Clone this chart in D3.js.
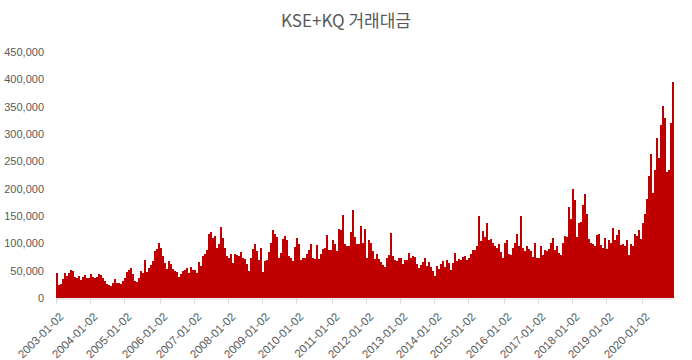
<!DOCTYPE html>
<html>
<head>
<meta charset="utf-8">
<script src="https://cdn.jsdelivr.net/npm/d3@7"></script>
<style>
  body { margin: 0; background: #fff; }
  .axis text { font-family: "Liberation Sans", Arial, sans-serif; font-size: 11px; fill: #595959; }
  .xlab text { font-size: 11.5px; }
  .title { font-family: "Noto Sans CJK KR", sans-serif; font-size: 17px; fill: #595959; }
</style>
</head>
<body>
<div id="chart"></div>
<script>
// KSE+KQ trading value (억원), roughly two weeks per bar
var yearLabels = ["2003-01-02", "2004-01-02", "2005-01-02", "2006-01-02", "2007-01-02",
  "2008-01-02", "2009-01-02", "2010-01-02", "2011-01-02", "2012-01-02", "2013-01-02",
  "2014-01-02", "2015-01-02", "2016-01-02", "2017-01-02", "2018-01-02", "2019-01-02", "2020-01-02"];

// values in thousands
var v2003 = [45, 24, 26, 35, 45, 40, 46, 51, 49, 39, 37, 40, 33, 38, 42, 37, 37];
var v2004 = [44, 38, 37, 38, 44, 42, 37, 31, 26, 24, 22, 27, 34, 28, 28, 25, 31];
var v2005 = [37, 48, 52, 55, 44, 32, 30, 37, 50, 46, 69, 48, 55, 61, 68, 86, 90, 100];
var v2006 = [91, 77, 64, 53, 68, 62, 53, 49, 48, 38, 43, 49, 52, 55, 46, 57, 51];
var v2007 = [52, 46, 66, 59, 77, 80, 87, 117, 121, 110, 114, 92, 98, 130, 110, 92, 77];
var v2008 = [74, 80, 64, 80, 79, 77, 85, 73, 71, 62, 49, 73, 89, 98, 86, 69, 91];
var v2009 = [48, 67, 69, 85, 101, 124, 117, 112, 73, 82, 108, 114, 106, 77, 74, 68, 93];
var v2010 = [109, 98, 69, 73, 74, 81, 87, 98, 74, 71, 97, 71, 80, 89, 92, 115, 87, 87];
var v2011 = [106, 98, 86, 126, 124, 152, 98, 95, 95, 121, 161, 112, 98, 99, 132, 101, 126];
var v2012 = [74, 106, 101, 86, 71, 81, 71, 65, 61, 57, 74, 78, 118, 77, 69, 68, 73];
var v2013 = [73, 62, 69, 69, 83, 74, 77, 75, 63, 54, 60, 65, 73, 59, 65, 57, 49];
var v2014 = [41, 59, 53, 63, 67, 57, 70, 64, 51, 64, 82, 67, 71, 70, 75, 77, 69];
var v2015 = [73, 81, 87, 88, 95, 150, 104, 122, 112, 137, 107, 108, 100, 95, 92, 98, 84, 73];
var v2016 = [101, 107, 81, 79, 92, 101, 117, 95, 150, 92, 86, 96, 90, 86, 75, 101, 73];
var v2017 = [73, 95, 79, 87, 86, 90, 100, 110, 88, 95, 82, 79, 101, 113, 112, 166, 144];
var v2018 = [200, 180, 111, 137, 139, 170, 190, 154, 108, 100, 98, 95, 116, 117, 97, 91, 110];
var v2019 = [90, 106, 101, 128, 106, 116, 124, 97, 99, 96, 106, 79, 99, 95, 117, 113, 125, 108];
var v2020 = [137, 154, 181, 223, 264, 192, 234, 293, 256, 317, 351, 330, 230, 234, 320, 395];

var yearValues = [v2003, v2004, v2005, v2006, v2007, v2008, v2009, v2010, v2011,
  v2012, v2013, v2014, v2015, v2016, v2017, v2018, v2019, v2020];

var W = 692, H = 360;
var margin = {top: 52, right: 18, bottom: 62, left: 56},
    width = W - margin.left - margin.right,
    height = H - margin.top - margin.bottom;

// flatten into one series, remember where each year starts
var data = [], yearStart = [];
yearValues.forEach(function(arr) {
  yearStart.push(data.length);
  arr.forEach(function(v) { data.push({i: data.length, value: v * 1000}); });
});

var x = d3.scaleBand().domain(data.map(function(d) { return d.i; }))
  .range([0, width]).padding(0);
var y = d3.scaleLinear().domain([0, 450000]).range([height, 0]);

var svg = d3.select("#chart").append("svg")
  .attr("width", W).attr("height", H)
  .append("g")
    .attr("transform", "translate(" + margin.left + "," + margin.top + ")");

// title
d3.select("svg").append("text")
  .attr("class", "title")
  .attr("x", W / 2)
  .attr("y", 27)
  .attr("text-anchor", "middle")
  .text("KSE+KQ 거래대금");

// bars
svg.selectAll(".bar").data(data).enter().append("rect")
  .attr("class", "bar")
  .attr("x", function(d) { return x(d.i); })
  .attr("width", x.bandwidth() + 0.01)
  .attr("y", function(d) { return y(d.value); })
  .attr("height", function(d) { return height - y(d.value); })
  .attr("fill", "#C00000")
  .attr("shape-rendering", "crispEdges");

// y axis, labels only
var yAxis = d3.axisLeft(y)
  .tickValues(d3.range(0, 450001, 50000))
  .tickFormat(d3.format(","))
  .tickSize(0);
var gy = svg.append("g").attr("class", "axis").call(yAxis);
gy.select(".domain").remove();
gy.selectAll("text").attr("x", -12);

// x axis with rotated year labels
var xAxis = d3.axisBottom(x)
  .tickValues(yearStart)
  .tickFormat(function(d, k) { return yearLabels[k]; })
  .tickSize(5)
  .tickSizeOuter(0);
var gx = svg.append("g")
  .attr("class", "axis xlab")
  .attr("transform", "translate(0," + (height + 0.5) + ")")
  .call(xAxis);
gx.select(".domain").attr("stroke", "#d9d9d9");
gx.selectAll(".tick").attr("transform", function(d) { return "translate(" + (x(d) + 0.5) + ",0)"; });
gx.selectAll(".tick line").attr("stroke", "#d9d9d9");
gx.selectAll(".tick text")
  .attr("x", 0)
  .attr("y", 0)
  .attr("dy", "0.35em")
  .attr("text-anchor", "end")
  .attr("transform", "translate(5,16) rotate(-45)");
</script>
</body>
</html>
